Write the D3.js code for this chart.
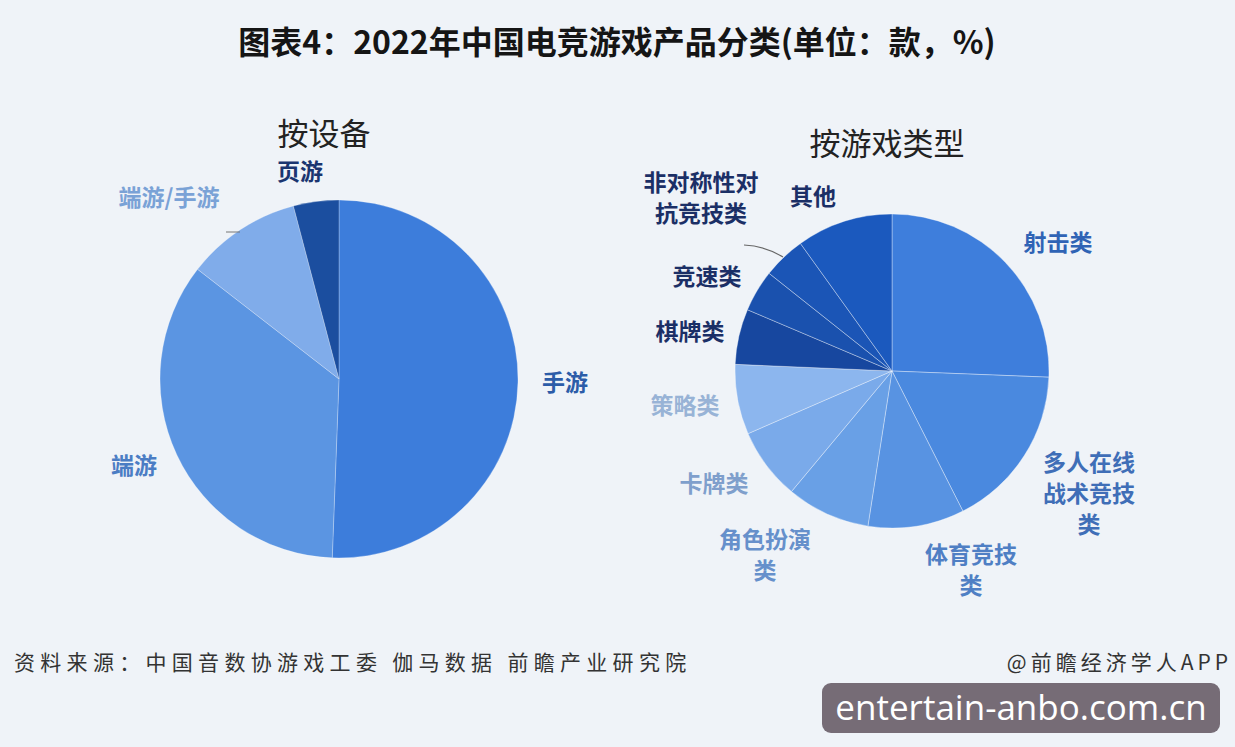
<!DOCTYPE html>
<html><head><meta charset="utf-8">
<script src="https://cdn.jsdelivr.net/npm/d3@7"></script>
<style>
html,body{margin:0;padding:0;background:#eff3f8;}
svg{display:block;font-family:"Noto Sans CJK SC","Noto Sans",sans-serif;}
</style></head>
<body><svg id="c" width="1235" height="747"></svg>
<script>
// ---- data ----
const deviceCats = ["手游","端游","端游/手游","页游"];
const deviceVals = [50.6, 34.9, 10.4, 4.1];
const deviceColors = ["#3d7ddb","#5b95e2","#80acea","#1b4e9f"];

const typeCats = ["射击类","多人在线战术竞技类","体育竞技类","角色扮演类","卡牌类","策略类","棋牌类","竞速类","非对称性对抗竞技类","其他"];
const typeVals = [25.6, 16.9, 9.9, 8.6, 7.4, 7.2, 5.7, 4.3, 4.4, 9.9];
const typeColors = ["#3e7edc","#4a89df","#5893e2","#69a0e6","#7aaaea","#8cb6ee","#17479f","#1a51ae","#1b55b6","#1b59be"];

const svg = d3.select("#c");

svg.append("text").attr("x",617).attr("y",54).attr("text-anchor","middle")
  .attr("font-size",32).attr("font-weight","bold").attr("fill","#151515")
  .text("图表4：2022年中国电竞游戏产品分类(单位：款，%)");

function drawPie(cx, cy, r, vals, colors, strokeOp){
  const pie = d3.pie().sort(null).value(d=>d);
  const arc = d3.arc().innerRadius(0).outerRadius(r);
  const g = svg.append("g").attr("transform",`translate(${cx},${cy})`);
  g.selectAll("path").data(pie(vals)).join("path")
    .attr("d",arc).attr("fill",(d,i)=>colors[i])
    .attr("stroke","#ffffff").attr("stroke-opacity",strokeOp).attr("stroke-width",1);
  return g;
}
drawPie(339, 379, 179, deviceVals, deviceColors, 0.25);
drawPie(892, 371, 157, typeVals, typeColors, 0.35);

// titles
svg.append("text").attr("x",324).attr("y",145).attr("text-anchor","middle")
  .attr("font-size",31).attr("fill","#222").text("按设备");
svg.append("text").attr("x",887).attr("y",155).attr("text-anchor","middle")
  .attr("font-size",31).attr("fill","#222").text("按游戏类型");

// labels
const deviceLabels = [
  {t:[deviceCats[0]], x:565, y:383, c:"#2c5ca8"},
  {t:[deviceCats[1]], x:134, y:466, c:"#4b7dc4"},
  {t:[deviceCats[2]], x:169, y:198, c:"#7aa2d6"},
  {t:[deviceCats[3]], x:300, y:172, c:"#1a3570"}
];
const typeLabels = [
  {t:["射击类"], x:1058, y:243, c:"#2f63b5"},
  {t:["多人在线","战术竞技","类"], x:1089, y:463, c:"#3f6eb7"},
  {t:["体育竞技","类"], x:971, y:555, c:"#4f7fc4"},
  {t:["角色扮演","类"], x:765, y:540, c:"#6690cb"},
  {t:["卡牌类"], x:714, y:484, c:"#7f9fcc"},
  {t:["策略类"], x:685, y:406, c:"#98b3d6"},
  {t:["棋牌类"], x:690, y:332, c:"#1b2f66"},
  {t:["竞速类"], x:707, y:277, c:"#1b2f66"},
  {t:["非对称性对","抗竞技类"], x:701, y:183, c:"#1b2f66"},
  {t:["其他"], x:813, y:197, c:"#1b2f66"}
];
function drawLabels(list){
  list.forEach(l=>{
    const tx = svg.append("text").attr("text-anchor","middle").attr("font-size",23)
      .attr("font-weight","bold").attr("fill",l.c);
    l.t.forEach((s,i)=>tx.append("tspan").attr("x",l.x).attr("y",l.y+8+i*31).text(s));
  });
}
drawLabels(deviceLabels);
drawLabels(typeLabels);

// leader lines
svg.append("path").attr("d","M226,232 L240,232").attr("stroke","#777").attr("fill","none");
svg.append("path").attr("d","M744,245 Q765,246 783,257").attr("stroke","#666").attr("fill","none").attr("stroke-width",1.2);

// footer
svg.append("text").attr("x",14).attr("y",670).attr("font-size",21).attr("fill","#333")
  .attr("letter-spacing",5.3).text("资料来源：中国音数协游戏工委 伽马数据 前瞻产业研究院");
svg.append("text").attr("x",1232).attr("y",670).attr("text-anchor","end").attr("font-size",21).attr("fill","#333")
  .attr("letter-spacing",4).text("@前瞻经济学人APP");
svg.append("rect").attr("x",822).attr("y",683).attr("width",398).attr("height",50).attr("rx",9)
  .attr("fill","#766c76");
svg.append("text").attr("x",1021).attr("y",720).attr("text-anchor","middle").attr("font-size",35)
  .attr("fill","#ffffff").attr("font-family","'Open Sans','DejaVu Sans',sans-serif").text("entertain-anbo.com.cn");
</script></body></html>
